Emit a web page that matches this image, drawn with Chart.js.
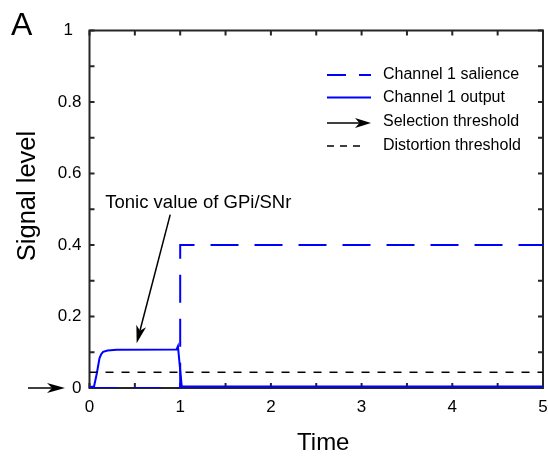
<!DOCTYPE html>
<html>
<head>
<meta charset="utf-8">
<script src="https://cdn.jsdelivr.net/npm/chart.js@4.4.1/dist/chart.umd.min.js"></script>
<style>
  html, body { margin: 0; padding: 0; background: #fff; }
  #wrap { width: 548px; height: 464px; position: relative; }
</style>
</head>
<body>
<div id="wrap"><canvas id="c" width="548" height="464"></canvas></div>
<script>
// Time axis and signal values for channel 1
const salienceT = [0, 1, 1, 5];
const salienceV = [0, 0, 0.4, 0.4];

const outputT = [0, 0.05, 0.08, 0.11, 0.13, 0.15, 0.2, 0.3, 0.96, 0.975, 1.017, 5];
const outputV = [0.003, 0.004, 0.04, 0.083, 0.095, 0.101, 0.105, 0.107, 0.108, 0.117, 0.004, 0.004];

const distortionT = [0, 5];
const distortionV = [0.044, 0.044];

// Tick values and labels
const xMajor = [0, 1, 2, 3, 4, 5];
const xMinor = [0.5, 1.5, 2.5, 3.5, 4.5];
const xLabels = ['0', '1', '2', '3', '4', '5'];
const yMajor = [0, 0.2, 0.4, 0.6, 0.8, 1];
const yMinor = [0.1, 0.3, 0.5, 0.7, 0.9];
const yLabels = ['0', '0.2', '0.4', '0.6', '0.8', '1\u2002'];

const legendLabels = ['Channel 1 salience', 'Channel 1 output', 'Selection threshold', 'Distortion threshold'];
const tonicLabel = 'Tonic value of GPi/SNr';

const FONT = '"Liberation Sans", Arial, Helvetica, sans-serif';
const BLUE = '#0000ff';
const AXIS = '#262626';

function pts(t, v) { return t.map((x, i) => ({ x: x, y: v[i] })); }

function arrow(ctx, x0, y0, x1, y1, len, half) {
  const dx = x1 - x0, dy = y1 - y0;
  const L = Math.hypot(dx, dy);
  const ux = dx / L, uy = dy / L;
  const nx = -uy, ny = ux;
  const notch = len * 0.72;
  ctx.beginPath();
  ctx.moveTo(x0, y0);
  ctx.lineTo(x1 - ux * notch, y1 - uy * notch);
  ctx.stroke();
  ctx.beginPath();
  ctx.moveTo(x1, y1);
  ctx.lineTo(x1 - ux * len + nx * half, y1 - uy * len + ny * half);
  ctx.lineTo(x1 - ux * notch, y1 - uy * notch);
  ctx.lineTo(x1 - ux * len - nx * half, y1 - uy * len - ny * half);
  ctx.closePath();
  ctx.fill();
}

const framePlugin = {
  id: 'frame',
  beforeDatasetsDraw(chart) {
    const { ctx, chartArea: a, scales } = chart;
    const xs = scales.x, ys = scales.y;
    ctx.save();
    ctx.strokeStyle = AXIS;
    ctx.lineWidth = 2;
    ctx.strokeRect(a.left, a.top, a.right - a.left, a.bottom - a.top);
    const tl = 5;
    ctx.beginPath();
    xMajor.concat(xMinor).forEach(v => {
      const px = xs.getPixelForValue(v);
      ctx.moveTo(px, a.bottom); ctx.lineTo(px, a.bottom - tl);
      ctx.moveTo(px, a.top); ctx.lineTo(px, a.top + tl);
    });
    yMajor.concat(yMinor).forEach(v => {
      const py = ys.getPixelForValue(v);
      ctx.moveTo(a.left, py); ctx.lineTo(a.left + tl, py);
      ctx.moveTo(a.right, py); ctx.lineTo(a.right - tl, py);
    });
    ctx.stroke();
    ctx.restore();
  },
  afterDraw(chart) {
    const { ctx, chartArea: a, scales } = chart;
    const xs = scales.x, ys = scales.y;
    ctx.save();
    ctx.fillStyle = '#000';
    ctx.strokeStyle = '#000';

    // panel letter
    ctx.font = '32px ' + FONT;
    ctx.textAlign = 'left';
    ctx.textBaseline = 'alphabetic';
    ctx.fillText('A', 11, 35);

    // axis titles
    ctx.font = '24px ' + FONT;
    ctx.textAlign = 'center';
    ctx.fillText('Time', (a.left + a.right) / 2 + 7, 450);
    ctx.save();
    ctx.translate(35, 196);
    ctx.rotate(-Math.PI / 2);
    ctx.font = '25.5px ' + FONT;
    ctx.fillText('Signal level', 0, 0);
    ctx.restore();

    // legend
    ctx.font = '16px ' + FONT;
    ctx.textAlign = 'left';
    ctx.textBaseline = 'middle';
    const lx0 = 327, lx1 = 371, tx = 383;
    const rows = [75, 97.5, 122, 146];
    ctx.lineWidth = 2;
    ctx.strokeStyle = BLUE;
    ctx.setLineDash([19, 13]);
    ctx.beginPath(); ctx.moveTo(lx0, rows[0]); ctx.lineTo(lx1, rows[0]); ctx.stroke();
    ctx.setLineDash([]);
    ctx.beginPath(); ctx.moveTo(lx0, rows[1]); ctx.lineTo(lx1, rows[1]); ctx.stroke();
    ctx.strokeStyle = '#000';
    ctx.lineWidth = 1.5;
    arrow(ctx, lx0, rows[2] + 1, lx1, rows[2] + 1, 16, 5);
    ctx.setLineDash([7, 6]);
    ctx.beginPath(); ctx.moveTo(lx0, rows[3]); ctx.lineTo(lx1 - 8, rows[3]); ctx.stroke();
    ctx.setLineDash([]);
    legendLabels.forEach((s, i) => ctx.fillText(s, tx, rows[i]));

    // selection threshold marker at zero
    const y0 = ys.getPixelForValue(0);
    ctx.lineWidth = 1.5;
    arrow(ctx, 28, y0, 65, y0, 18, 5);

    // tonic value annotation
    ctx.font = '18.5px ' + FONT;
    ctx.textAlign = 'center';
    ctx.textBaseline = 'middle';
    ctx.fillText(tonicLabel, xs.getPixelForValue(1.2), ys.getPixelForValue(0.518));
    ctx.lineWidth = 1.5;
    arrow(ctx, xs.getPixelForValue(0.89), ys.getPixelForValue(0.485),
               xs.getPixelForValue(0.52), ys.getPixelForValue(0.125), 18, 5);
    ctx.restore();
  }
};

new Chart(document.getElementById('c'), {
  type: 'line',
  data: {
    datasets: [
      { label: legendLabels[3], data: pts(distortionT, distortionV), borderColor: '#000', borderWidth: 1.5, borderDash: [8, 8], pointRadius: 0, tension: 0 },
      { label: legendLabels[0], data: pts(salienceT, salienceV), borderColor: BLUE, borderWidth: 2, borderDash: [28, 16], pointRadius: 0, tension: 0 },
      { label: legendLabels[1], data: pts(outputT, outputV), borderColor: BLUE, borderWidth: 2, pointRadius: 0, tension: 0 }
    ]
  },
  options: {
    responsive: false,
    animation: false,
    events: [],
    layout: { padding: { left: 0, right: 5, top: 30.5, bottom: 0 } },
    plugins: { legend: { display: false }, tooltip: { enabled: false }, title: { display: false } },
    scales: {
      x: {
        type: 'linear', min: 0, max: 5,
        grid: { display: false, drawTicks: false },
        border: { display: false },
        afterBuildTicks(s) { s.ticks = xMajor.map(v => ({ value: v })); },
        afterFit(s) { s.height = 76; s.paddingLeft = 0; s.paddingRight = 0; },
        ticks: {
          color: '#000', font: { family: FONT, size: 17 }, padding: 9, autoSkip: false, maxRotation: 0,
          callback: (v) => xLabels[xMajor.indexOf(v)]
        }
      },
      y: {
        type: 'linear', min: 0, max: 1,
        grid: { display: false, drawTicks: false },
        border: { display: false },
        afterBuildTicks(s) { s.ticks = yMajor.map(v => ({ value: v })); },
        afterFit(s) { s.width = 89.5; s.paddingTop = 0; s.paddingBottom = 0; },
        ticks: {
          color: '#000', font: { family: FONT, size: 17 }, padding: 8, autoSkip: false,
          callback: (v) => yLabels[yMajor.indexOf(v)]
        }
      }
    }
  },
  plugins: [framePlugin]
});
</script>
</body>
</html>
